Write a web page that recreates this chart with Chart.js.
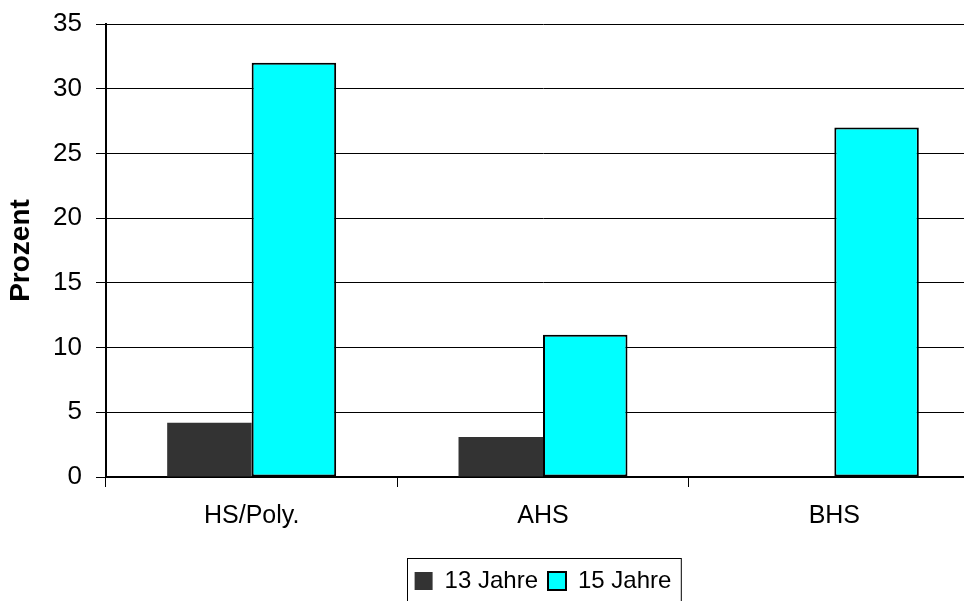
<!DOCTYPE html>
<html lang="de">

<head>
    <meta charset="UTF-8">
    <title>Prozent nach Schultyp</title>
    <script src="https://cdn.jsdelivr.net/npm/chart.js"></script>
    <style>
        html, body { margin: 0; padding: 0; background: #fff; overflow: hidden; }
        canvas { display: block; }
    </style>
</head>

<body>
    <canvas id="myChart" width="980" height="603"></canvas>
    <script>
        const categories = ['HS/Poly.', 'AHS', 'BHS'];
        const jahre13 = [4.2, 3.1, 0];
        const jahre15 = [32, 11, 27];
        const yTicks = [0, 5, 10, 15, 20, 25, 30, 35];

        const font = 'Arial, "Liberation Sans", sans-serif';

        // Rahmen um die Legende wie im Excel-Original
        const legendFrame = {
            id: 'legendFrame',
            afterDraw(chart) {
                const lg = chart.legend;
                const hb = lg.legendHitBoxes;
                if (!hb || !hb.length) return;
                const last = hb[hb.length - 1];
                const left = hb[0].left - 8;
                const right = last.left + last.width + 9;
                const top = hb[0].top - 11;
                const c = chart.ctx;
                c.save();
                c.strokeStyle = '#000';
                c.lineWidth = 1;
                c.strokeRect(Math.round(left) + 0.5, Math.round(top) + 0.5, right - left, 60);
                c.restore();
            }
        };

        const ctx = document.getElementById('myChart').getContext('2d');
        const chart = new Chart(ctx, {
            type: 'bar',
            data: {
                labels: categories,
                datasets: [{
                    label: '13 Jahre',
                    data: jahre13,
                    backgroundColor: '#333333',
                    borderColor: '#333333',
                    borderWidth: 0
                }, {
                    label: '15 Jahre',
                    data: jahre15,
                    backgroundColor: '#00FFFF',
                    borderColor: '#000000',
                    borderWidth: 2,
                    borderSkipped: false
                }]
            },
            options: {
                responsive: false,
                animation: false,
                layout: { padding: { top: 24, left: 0, right: 0, bottom: 0 } },
                datasets: {
                    bar: { categoryPercentage: 0.58, barPercentage: 1.0 }
                },
                plugins: {
                    tooltip: { enabled: false },
                    legend: {
                        position: 'bottom',
                        fullSize: false,
                        labels: {
                            color: '#000',
                            boxWidth: 18,
                            boxHeight: 18,
                            padding: 10,
                            font: { family: font, size: 24 }
                        }
                    }
                },
                scales: {
                    x: {
                        offset: true,
                        afterFit(scale) { scale.height = 82; },
                        border: { display: true, color: '#000', width: 2 },
                        grid: {
                            offset: true,
                            drawOnChartArea: false,
                            drawTicks: true,
                            tickLength: 10,
                            color: '#000',
                            lineWidth: 1
                        },
                        ticks: {
                            color: '#000',
                            padding: 14,
                            font: { family: font, size: 25 }
                        }
                    },
                    y: {
                        min: 0,
                        max: 35,
                        afterFit(scale) {
                            scale.width = 106;
                            scale.paddingTop = 0;
                            scale.paddingBottom = 0;
                        },
                        afterBuildTicks(scale) {
                            scale.ticks = yTicks.map(v => ({ value: v }));
                        },
                        border: { display: true, color: '#000', width: 2 },
                        grid: {
                            color: '#000',
                            lineWidth: 1,
                            tickLength: 10
                        },
                        ticks: {
                            color: '#000',
                            padding: 14,
                            font: { family: font, size: 26, lineHeight: 1 }
                        },
                        title: {
                            display: true,
                            text: 'Prozent',
                            color: '#000',
                            padding: { top: 4, bottom: 0 },
                            font: { family: font, size: 28, weight: 'bold' }
                        }
                    }
                }
            },
            plugins: [legendFrame]
        });
    </script>
</body>

</html>
